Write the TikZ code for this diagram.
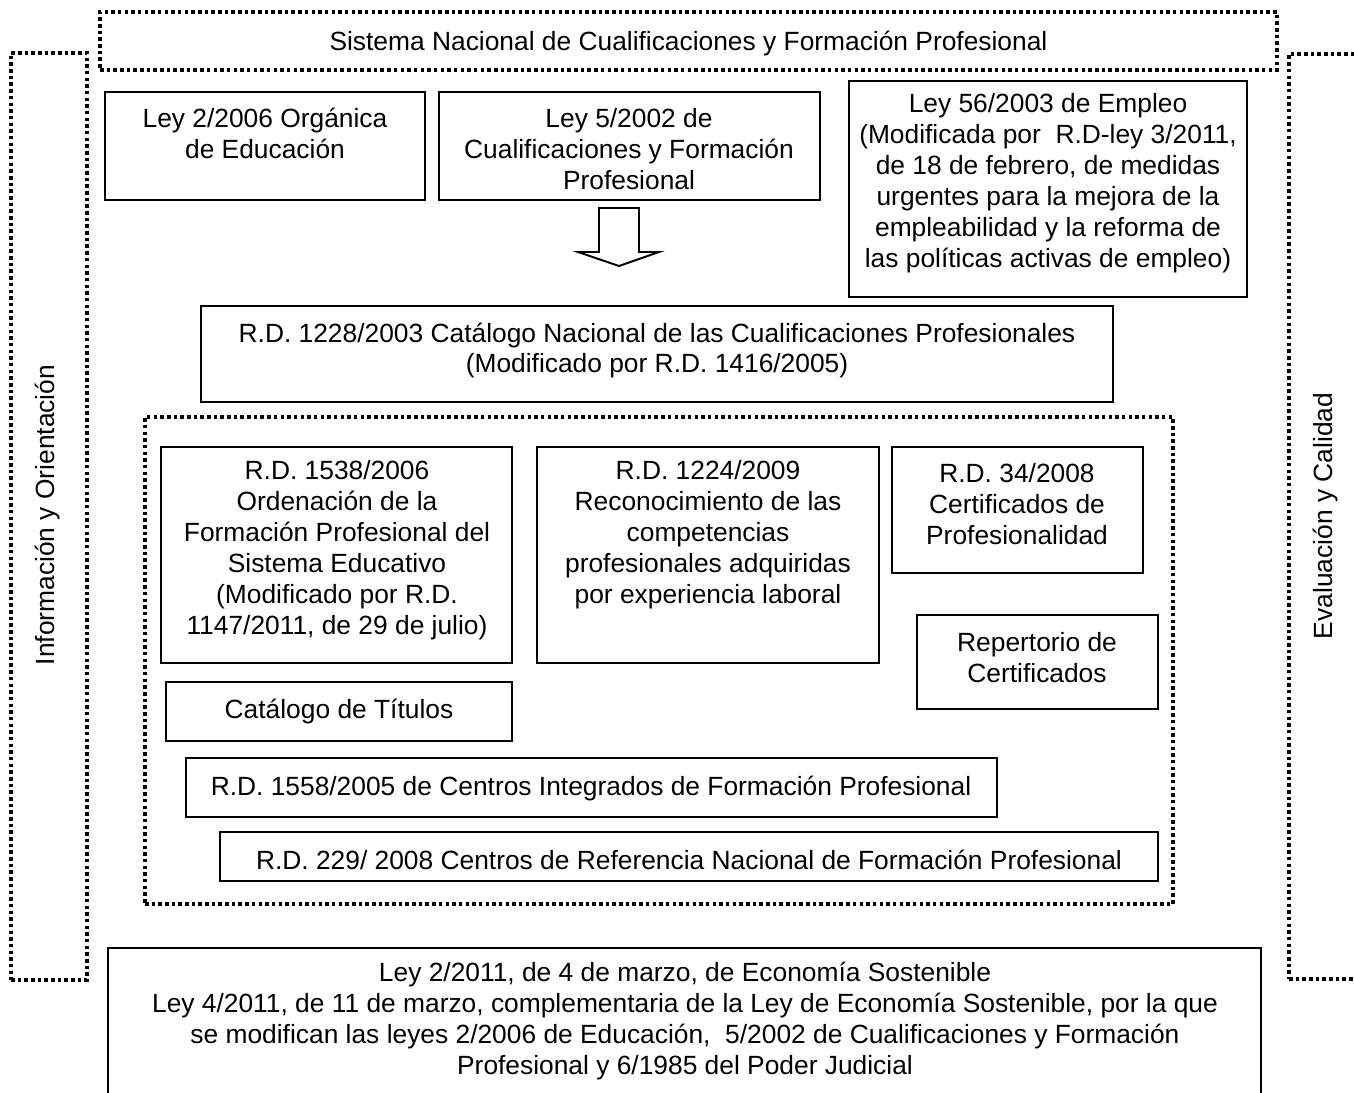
\documentclass[tikz,border=0pt]{standalone}
\usepackage{fontspec}
\setmainfont{Liberation Sans}
\usetikzlibrary{positioning, calc, shapes}

\begin{document}
\begin{tikzpicture}
  \tikzstyle{cadre} = [rectangle, draw, line width=1.1pt, inner sep=0pt]
  \tikzstyle{pointille} = [rectangle, draw, line width=2pt, dash pattern=on 2pt off 1.8pt, inner sep=0pt]
  \tikzstyle{texte} = [align=center, inner sep=0pt, font=\fontsize{15}{17.6}\selectfont]
  \clip (0,0) rectangle (27.08,-21.86);
  % cadres pointilles
  \node[pointille, minimum width=23.54cm, minimum height=1.16cm] at (13.77,-0.82) (SNC) {};
  \node[pointille, minimum width=1.52cm, minimum height=18.54cm] at (0.98,-10.33) (IO) {};
  \node[pointille, minimum width=1.82cm, minimum height=18.5cm] at (26.69,-10.33) (EC) {};
  \node[pointille, minimum width=20.56cm, minimum height=9.74cm] at (13.18,-13.21) (RD) {};
  \node[texte] at (13.77,-0.87) (tSNC) {Sistema Nacional de Cualificaciones y Formación Profesional};
  \node[texte, rotate=90] at (0.96,-10.30) (tIO) {Información y Orientación};
  \node[texte, rotate=90] at (26.52,-10.32) (tEC) {Evaluación y Calidad};
  % leyes
  \node[cadre, minimum width=6.40cm, minimum height=2.16cm] at (5.30,-2.92) (L2) {};
  \node[texte] at (5.30,-2.66) (tL2) {Ley 2/2006 Orgánica\\de Educación};
  \node[cadre, minimum width=7.62cm, minimum height=2.16cm] at (12.59,-2.92) (L5) {};
  \node[texte] at (12.58,-2.98) (tL5) {Ley 5/2002 de\\Cualificaciones y Formación\\Profesional};
  \node[cadre, minimum width=7.96cm, minimum height=4.32cm] at (20.96,-3.78) (L56) {};
  \node[texte] at (20.96,-3.67) (tL56) {Ley 56/2003 de Empleo\\(Modificada por \ R.D-ley 3/2011,\\de 18 de febrero, de medidas\\urgentes para la mejora de la\\empleabilidad y la reforma de\\las políticas activas de empleo)};
  % flecha
  \draw[line width=1.1pt, line join=miter] (11.98,-4.16) -- (12.78,-4.16) -- (12.78,-5.04) -- (13.18,-5.04)
    -- (12.38,-5.32) -- (11.56,-5.04) -- (11.98,-5.04) -- cycle;
  \node[cadre, minimum width=18.24cm, minimum height=1.92cm] at (13.14,-7.08) (CNCP) {};
  \node[texte] at (13.14,-7.01) (tCNCP) {R.D. 1228/2003 Catálogo Nacional de las Cualificaciones Profesionales\\(Modificado por R.D. 1416/2005)};
  % reales decretos
  \node[cadre, minimum width=7.02cm, minimum height=4.32cm] at (6.73,-11.10) (RD1538) {};
  \node[texte] at (6.74,-11.01) (tRD1538) {R.D. 1538/2006\\Ordenación de la\\Formación Profesional del\\Sistema Educativo\\(Modificado por R.D.\\1147/2011, de 29 de julio)};
  \node[cadre, minimum width=6.84cm, minimum height=4.32cm] at (14.16,-11.10) (RD1224) {};
  \node[texte] at (14.16,-10.70) (tRD1224) {R.D. 1224/2009\\Reconocimiento de las\\competencias\\profesionales adquiridas\\por experiencia laboral};
  \node[cadre, minimum width=5.02cm, minimum height=2.52cm] at (20.35,-10.20) (RD34) {};
  \node[texte] at (20.34,-10.08) (tRD34) {R.D. 34/2008\\Certificados de\\Profesionalidad};
  \node[cadre, minimum width=4.82cm, minimum height=1.88cm] at (20.75,-13.24) (REP) {};
  \node[texte] at (20.74,-13.15) (tREP) {Repertorio de\\Certificados};
  \node[cadre, minimum width=6.92cm, minimum height=1.18cm] at (6.78,-14.23) (CAT) {};
  \node[texte] at (6.78,-14.24) (tCAT) {Catálogo de Títulos};
  \node[cadre, minimum width=16.22cm, minimum height=1.18cm] at (11.83,-15.75) (RD1558) {};
  \node[texte] at (11.82,-15.78) (tRD1558) {R.D. 1558/2005 de Centros Integrados de Formación Profesional};
  \node[cadre, minimum width=18.76cm, minimum height=0.98cm] at (13.78,-17.13) (RD229) {};
  \node[texte] at (13.78,-17.20) (tRD229) {R.D. 229/ 2008 Centros de Referencia Nacional de Formación Profesional};
  % economia sostenible
  \node[cadre, minimum width=23.06cm, minimum height=3.44cm] at (13.69,-20.68) (LES) {};
  \node[texte] at (13.70,-20.42) (tLES) {Ley 2/2011, de 4 de marzo, de Economía Sostenible\\Ley 4/2011, de 11 de marzo, complementaria de la Ley de Economía Sostenible, por la que\\se modifican las leyes 2/2006 de Educación, \ 5/2002 de Cualificaciones y Formación\\Profesional y 6/1985 del Poder Judicial};
\end{tikzpicture}
\end{document}
